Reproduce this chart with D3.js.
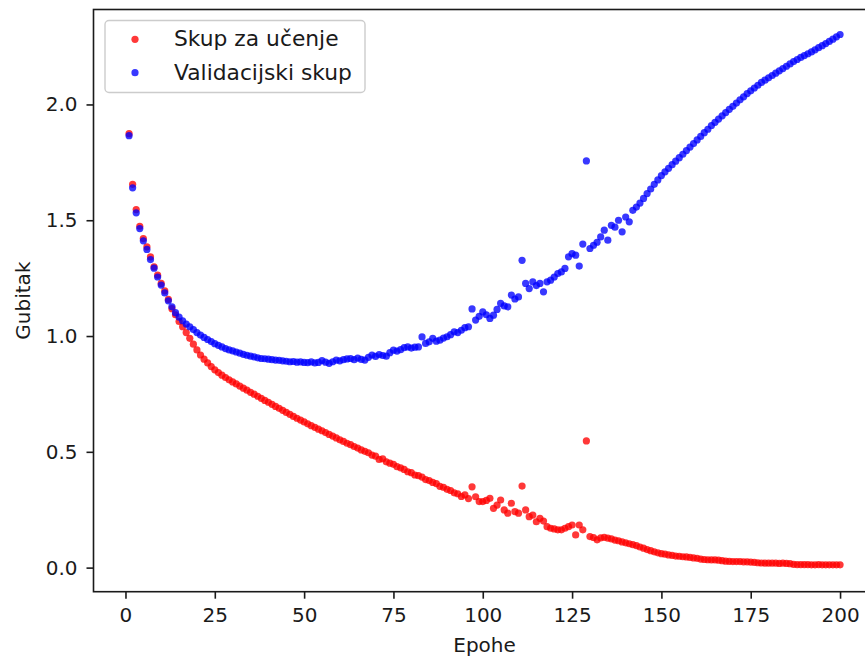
<!DOCTYPE html>
<html>
<head>
<meta charset="utf-8">
<script src="https://cdn.jsdelivr.net/npm/d3@7"></script>
<style>
  html, body { margin: 0; padding: 0; background: #fff; }
  svg { display: block; }
  text { font-family: "DejaVu Sans", sans-serif; fill: #1a1a1a; }
</style>
</head>
<body>
<svg id="chart" width="865" height="659"></svg>
<script>
// Loss per epoch (epochs 1..200)
const trainLoss = [
  1.874, 1.655, 1.546, 1.474, 1.421, 1.385, 1.342, 1.299, 1.263, 1.227,
  1.195, 1.158, 1.118, 1.092, 1.063, 1.040, 1.015, 0.990, 0.965, 0.940,
  0.918, 0.900, 0.884, 0.868, 0.854, 0.842, 0.831, 0.821, 0.811, 0.802,
  0.793, 0.784, 0.775, 0.766, 0.757, 0.749, 0.740, 0.731, 0.722, 0.714,
  0.705, 0.696, 0.688, 0.679, 0.670, 0.662, 0.653, 0.645, 0.637, 0.629,
  0.621, 0.613, 0.606, 0.598, 0.591, 0.583, 0.575, 0.568, 0.560, 0.552,
  0.545, 0.537, 0.531, 0.523, 0.516, 0.508, 0.502, 0.496, 0.486, 0.481,
  0.467, 0.470, 0.457, 0.451, 0.446, 0.436, 0.431, 0.424, 0.414, 0.410,
  0.400, 0.397, 0.391, 0.380, 0.376, 0.368, 0.363, 0.351, 0.347, 0.338,
  0.333, 0.323, 0.319, 0.307, 0.314, 0.298, 0.349, 0.306, 0.285, 0.285,
  0.290, 0.299, 0.256, 0.270, 0.292, 0.249, 0.235, 0.278, 0.242, 0.235,
  0.352, 0.249, 0.220, 0.227, 0.198, 0.213, 0.201, 0.177, 0.170, 0.167,
  0.163, 0.163, 0.170, 0.177, 0.184, 0.141, 0.184, 0.163, 0.547, 0.134,
  0.130, 0.120, 0.128, 0.131, 0.127, 0.124, 0.119, 0.116, 0.111, 0.107,
  0.103, 0.099, 0.095, 0.089, 0.084, 0.078, 0.073, 0.068, 0.064, 0.060,
  0.058, 0.055, 0.053, 0.050, 0.049, 0.047, 0.046, 0.044, 0.042, 0.040,
  0.037, 0.035, 0.034, 0.033, 0.033, 0.032, 0.030, 0.028, 0.027, 0.026,
  0.026, 0.026, 0.025, 0.025, 0.024, 0.023, 0.021, 0.020, 0.019, 0.019,
  0.019, 0.019, 0.018, 0.019, 0.018, 0.017, 0.014, 0.013, 0.013, 0.013,
  0.013, 0.012, 0.012, 0.013, 0.012, 0.012, 0.012, 0.012, 0.012, 0.012
];

const valLoss = [
  1.865, 1.640, 1.532, 1.464, 1.411, 1.374, 1.330, 1.293, 1.255, 1.220,
  1.186, 1.152, 1.126, 1.101, 1.082, 1.066, 1.052, 1.040, 1.028, 1.015,
  1.004, 0.994, 0.985, 0.976, 0.967, 0.960, 0.953, 0.946, 0.940, 0.936,
  0.931, 0.926, 0.921, 0.917, 0.913, 0.910, 0.906, 0.903, 0.902, 0.900,
  0.898, 0.896, 0.895, 0.893, 0.891, 0.889, 0.890, 0.887, 0.888, 0.886,
  0.885, 0.888, 0.884, 0.886, 0.894, 0.887, 0.882, 0.889, 0.896, 0.893,
  0.898, 0.901, 0.903, 0.898, 0.905, 0.899, 0.896, 0.908, 0.918, 0.912,
  0.920, 0.916, 0.913, 0.928, 0.939, 0.935, 0.941, 0.950, 0.953, 0.948,
  0.952, 0.953, 0.996, 0.968, 0.975, 0.990, 0.978, 0.982, 0.991, 0.997,
  1.006, 1.018, 1.015, 1.025, 1.036, 1.040, 1.117, 1.069, 1.085, 1.104,
  1.092, 1.076, 1.090, 1.115, 1.141, 1.130, 1.126, 1.177, 1.160, 1.169,
  1.327, 1.227, 1.205, 1.234, 1.218, 1.227, 1.191, 1.234, 1.241, 1.255,
  1.270, 1.277, 1.292, 1.342, 1.356, 1.349, 1.302, 1.397, 1.756, 1.378,
  1.392, 1.405, 1.428, 1.457, 1.414, 1.478, 1.470, 1.500, 1.450, 1.514,
  1.493, 1.543, 1.557, 1.574, 1.594, 1.615, 1.635, 1.655, 1.674, 1.693,
  1.709, 1.724, 1.740, 1.755, 1.770, 1.785, 1.801, 1.816, 1.831, 1.847,
  1.862, 1.878, 1.893, 1.909, 1.923, 1.937, 1.951, 1.965, 1.979, 1.992,
  2.006, 2.020, 2.033, 2.047, 2.059, 2.071, 2.083, 2.095, 2.105, 2.115,
  2.125, 2.135, 2.145, 2.155, 2.165, 2.175, 2.185, 2.194, 2.203, 2.211,
  2.219, 2.227, 2.236, 2.245, 2.254, 2.263, 2.272, 2.282, 2.292, 2.302
];

const epochs = d3.range(1, trainLoss.length + 1);

const xTicks = [0, 25, 50, 75, 100, 125, 150, 175, 200];
const yTicks = [0.0, 0.5, 1.0, 1.5, 2.0];

const seriesNames = ["Skup za učenje", "Validacijski skup"];
const seriesColors = ["#ff0000", "#0000ff"];

const xLabel = "Epohe";
const yLabel = "Gubitak";

// Plot frame (right edge runs past the visible canvas)
const frame = { left: 93.5, right: 875.6, top: 9.5, bottom: 591.7 };

const svg = d3.select("#chart");

const x = d3.scaleLinear().domain([-8.95, 209.95]).range([frame.left, frame.right]);
const y = d3.scaleLinear().domain([-0.104, 2.41]).range([frame.bottom, frame.top]);

// Points: training first, validation drawn on top
const series = [trainLoss, valLoss];
series.forEach((vals, i) => {
  svg.append("g")
    .selectAll("circle")
    .data(epochs)
    .join("circle")
    .attr("cx", d => x(d))
    .attr("cy", (d, j) => y(vals[j]))
    .attr("r", 3.6)
    .attr("fill", seriesColors[i])
    .attr("fill-opacity", 0.78);
});

// Frame
svg.append("rect")
  .attr("x", frame.left)
  .attr("y", frame.top)
  .attr("width", frame.right - frame.left)
  .attr("height", frame.bottom - frame.top)
  .attr("fill", "none")
  .attr("stroke", "#1a1a1a")
  .attr("stroke-width", 1.6);

// Axes
const xAxis = svg.append("g")
  .attr("transform", `translate(0,${frame.bottom})`)
  .call(d3.axisBottom(x).tickValues(xTicks).tickFormat(d3.format("d")).tickSize(7).tickPadding(9));

const yAxis = svg.append("g")
  .attr("transform", `translate(${frame.left},0)`)
  .call(d3.axisLeft(y).tickValues(yTicks).tickFormat(d3.format(".1f")).tickSize(7).tickPadding(9));

[xAxis, yAxis].forEach(g => {
  g.select(".domain").remove();
  g.selectAll(".tick line").attr("stroke", "#1a1a1a").attr("stroke-width", 1.6);
  g.selectAll(".tick text")
    .attr("fill", "#1a1a1a")
    .style("font-family", "'DejaVu Sans', sans-serif")
    .style("font-size", "20px");
});

// Axis titles
svg.append("text")
  .attr("x", (frame.left + frame.right) / 2)
  .attr("y", 652)
  .attr("text-anchor", "middle")
  .style("font-size", "20px")
  .text(xLabel);

svg.append("text")
  .attr("transform", `translate(30,${(frame.top + frame.bottom) / 2}) rotate(-90)`)
  .attr("text-anchor", "middle")
  .style("font-size", "20px")
  .text(yLabel);

// Legend
const legend = svg.append("g");
legend.append("rect")
  .attr("x", 105).attr("y", 20.5)
  .attr("width", 260).attr("height", 72)
  .attr("rx", 4)
  .attr("fill", "#fff").attr("fill-opacity", 0.8)
  .attr("stroke", "#cccccc").attr("stroke-width", 1.4);

const rowY = [39.3, 72.7];
seriesNames.forEach((name, i) => {
  legend.append("circle")
    .attr("cx", 135).attr("cy", rowY[i])
    .attr("r", 3.6)
    .attr("fill", seriesColors[i])
    .attr("fill-opacity", 0.78);
  legend.append("text")
    .attr("x", 174).attr("y", rowY[i] + 6.8)
    .style("font-size", "21.8px")
    .text(name);
});
</script>
</body>
</html>
